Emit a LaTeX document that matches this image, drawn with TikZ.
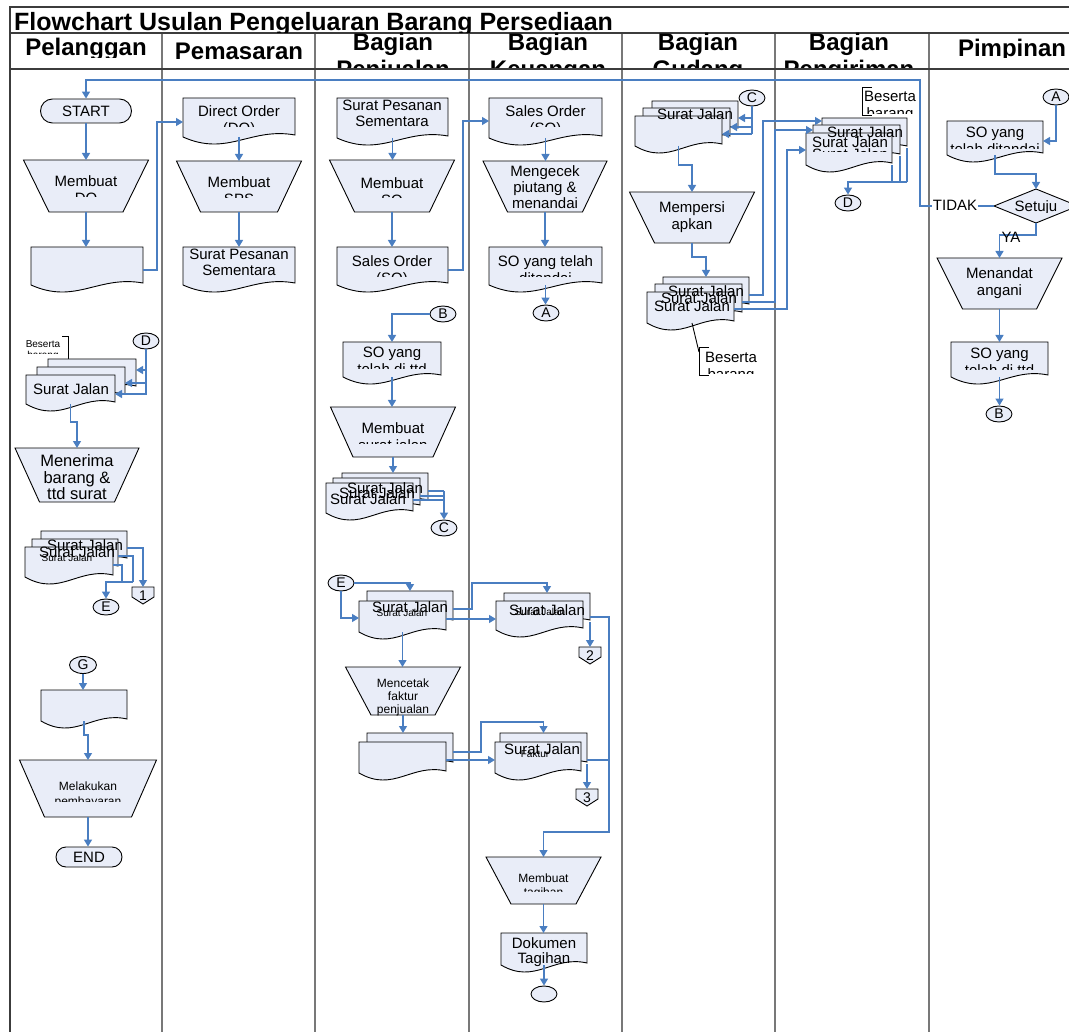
\documentclass[tikz,border=0pt]{standalone}
\usepackage{fontspec}
\setmainfont{Liberation Sans}
\usetikzlibrary{arrows.meta,shapes.geometric,fit}
\definecolor{flowblue}{RGB}{74,126,193}
\definecolor{shpfill}{RGB}{233,237,248}
\definecolor{framegray}{RGB}{60,60,60}
\definecolor{sepgray}{RGB}{120,120,120}
\tikzset{
  frm/.style={draw=framegray, line width=1.5pt},
  sep/.style={draw=sepgray, line width=2pt},
  shp/.style={draw=black, line width=0.9pt, fill=shpfill},
  annot/.style={draw=black, line width=0.9pt},
  box/.style={inner sep=0pt, outer sep=0pt},
  flow/.style={draw=flowblue, line width=1.3pt},
  arr/.style={flow, -{Triangle[length=7pt,width=8pt]}},
  txt/.style={font=\fontsize{15}{17}\selectfont, inner sep=0pt, anchor=base},
  btxt/.style={font=\fontsize{16.5}{18}\selectfont, inner sep=0pt, anchor=base},
  stxt/.style={font=\fontsize{12}{14}\selectfont, inner sep=0pt, anchor=base},
  tinyt/.style={font=\fontsize{10}{12}\selectfont, inner sep=0pt, anchor=base},
  ctext/.style={font=\fontsize{14}{16}\selectfont, inner sep=0pt, anchor=base},
  hdr/.style={font=\fontsize{24}{28}\selectfont\bfseries, inner sep=0pt, anchor=base},
  ttl/.style={font=\fontsize{25}{29}\selectfont\bfseries, inner sep=0pt, anchor=base west},
  conn/.style={ellipse, shp, minimum width=26pt, minimum height=16pt, inner sep=0pt, font=\fontsize{14}{16}\selectfont},
  term/.style={rectangle, shp, inner sep=0pt, font=\fontsize{15}{17}\selectfont}
}
\newcommand\docsh[5]{%
  \path[shp] (#2,#3) -- (#4,#3) -- (#4,{#5-2}) .. controls ({#2+0.6*(#4-#2)},{#5-10}) and ({#2+0.4*(#4-#2)},{#5+20}) .. (#2,#5) -- cycle;
  \node[box, fit={(#2,#3) (#4,#5)}] (#1) {};}
\newcommand\manop[6]{%
  \path[shp] ({#2-#5/2},#3) -- ({#2+#5/2},#3) -- ({#2+#6/2},#4) -- ({#2-#6/2},#4) -- cycle;
  \node[box, fit={({#2-#5/2},#3) ({#2+#5/2},#4)}] (#1) {};}
\newcommand\offpg[4]{%
  \path[shp] ({#2-11},#3) -- ({#2+11},#3) -- ({#2+11},{#3+10}) -- (#2,{#3+17}) -- ({#2-11},{#3+10}) -- cycle;
  \node[box, fit={({#2-11},#3) ({#2+11},{#3+17})}] (#1) {};
  \node[ctext] (#1-t) at (#2,{#3+13}) {#4};}
\newcommand\clipped[5]{\begin{scope}\clip (#1,#2) rectangle (#3,#4); #5\end{scope}}
\begin{document}
\begin{tikzpicture}[x=1pt,y=-1pt]
\useasboundingbox (0,0) rectangle (1069,1032);
% ---------- frame ----------
\foreach \x in {162,315,469,622,775,929} \draw[sep] (\x,33) -- (\x,1032);
\draw[frm] (10,1032) -- (10,7) -- (1069,7);
\draw[frm] (10,33) -- (1069,33);
\draw[frm] (10,69) -- (1069,69);
\clipped{10}{7}{1069}{32.5}{\node[ttl] (title) at (14,31) {Flowchart Usulan Pengeluaran Barang Persediaan};}
\clipped{10}{33}{162}{58}{\node[hdr] (h1) at (86,56) {Pelanggan};}
\node[hdr] (h2) at (239,60) {Pemasaran};
\clipped{315}{33}{469}{68}{\node[hdr] (h3a) at (393,51) {Bagian}; \node[hdr] (h3b) at (393,78) {Penjualan};}
\clipped{469}{33}{622}{68}{\node[hdr] (h4a) at (548,51) {Bagian}; \node[hdr] (h4b) at (548,78) {Keuangan};}
\clipped{622}{33}{775}{68}{\node[hdr] (h5a) at (698,51) {Bagian}; \node[hdr] (h5b) at (698,78) {Gudang};}
\clipped{775}{33}{929}{68}{\node[hdr] (h6a) at (849,51) {Bagian}; \node[hdr] (h6b) at (849,78) {Pengiriman};}
\clipped{929}{33}{1069}{58}{\node[hdr] (h7) at (1012,57) {Pimpinan};}
% ---------- shapes: Pelanggan ----------
\node[term, rounded corners=12pt, minimum width=91pt, minimum height=24pt] (start) at (86,111) {START};
\manop{mdo}{86}{160}{212}{125}{74}
\docsh{pdoc1}{31}{247}{143}{285}
\draw[annot] (62,336) -- (68,336) -- (68,359);
\docsh{ps1b}{48}{359}{136}{388}
\docsh{ps1m}{37}{367}{125}{396}
\docsh{ps1f}{26}{375}{115}{404}
\node[conn] (dp) at (146,341) {D};
\manop{mnr}{77}{448}{502}{124}{75}
\docsh{ps2b}{41}{531}{127}{560}
\docsh{ps2m}{32}{539}{118}{568}
\docsh{ps2f}{25}{547}{113}{577}
\offpg{off1}{143}{587}{1}
\node[conn] (ep) at (106,607) {E};
\node[conn, minimum width=27pt, minimum height=17pt] (gp) at (83,665) {G};
\docsh{pdoc2}{41}{690}{127}{721}
\manop{mlk}{88}{760}{817}{137}{87}
\node[term, rounded corners=10pt, minimum width=66pt, minimum height=20pt] (endt) at (89,857) {END};
% ---------- Pemasaran ----------
\docsh{dor}{183}{98}{295}{137}
\manop{sps}{239}{161}{212}{125}{77}
\docsh{spsd}{183}{247}{295}{285}
% ---------- Penjualan ----------
\docsh{spsj}{337}{98}{448}{138}
\manop{mso}{392}{160}{212}{125}{75}
\docsh{sod}{337}{247}{448}{285}
\node[conn] (bj) at (443,314) {B};
\docsh{sottd}{343}{342}{441}{377}
\manop{msj}{393}{407}{457}{125}{80}
\docsh{pj1b}{342}{473}{428}{502}
\docsh{pj1m}{333}{478}{420}{507}
\docsh{pj1f}{326}{483}{413}{513}
\node[conn] (cj) at (444,528) {C};
\node[conn] (ej) at (341,583) {E};
\docsh{pj2b}{367}{591}{453}{622}
\docsh{pj2f}{359}{601}{446}{632}
\manop{mct}{403}{667}{715}{115}{64}
\docsh{pj3b}{367}{733}{453}{764}
\docsh{pj3f}{359}{742}{446}{773}
% ---------- Keuangan ----------
\docsh{sok}{489}{98}{602}{138}
\manop{mgc}{545}{161}{212}{124}{75}
\docsh{sot}{489}{247}{602}{285}
\node[conn] (ak) at (546,313) {A};
\docsh{ku1b}{504}{593}{590}{622}
\docsh{ku1f}{496}{601}{583}{630}
\offpg{off2}{590}{647}{2}
\docsh{ku2b}{500}{733}{587}{764}
\docsh{ku2f}{495}{742}{581}{773}
\offpg{off3}{587}{789}{3}
\manop{mtg}{543.5}{857}{904}{115}{65}
\docsh{dtg}{501}{933}{587}{965}
\node[conn] (endc) at (544,994) {};
% ---------- Gudang ----------
\node[conn] (cg) at (752,98) {C};
\docsh{gd1b}{652}{101}{738}{130}
\docsh{gd1m}{643}{108}{730}{138}
\docsh{gd1f}{635}{116}{722}{146}
\manop{mps}{692}{192}{243}{125}{75}
\docsh{gd2b}{663}{277}{749}{306}
\docsh{gd2m}{655}{284}{742}{314}
\docsh{gd2f}{647}{292}{734}{323}
\draw[annot] (692,323) -- (699,352);
\draw[annot] (709,347) -- (699,347) -- (699,375) -- (709,375);
% ---------- Pengiriman ----------
\draw[annot] (872,87) -- (862,87) -- (862,115) -- (872,115);
\docsh{kr1b}{822}{118}{907}{148}
\docsh{kr1m}{813}{125}{900}{156}
\docsh{kr1f}{806}{133}{892}{165}
\node[conn] (dk) at (848,203) {D};
% ---------- Pimpinan ----------
\node[conn] (ap) at (1056,97) {A};
\docsh{spt}{947}{121}{1043}{155}
\path[shp] (1036,189) -- (1078,206) -- (1036,223) -- (994,206) -- cycle;
\node[box, fit={(994,189) (1078,223)}] (dia) {};
\manop{mtd}{999.5}{258}{309}{125}{74}
\docsh{sotd}{951}{342}{1048}{377}
\node[conn] (bp) at (999,414) {B};
% ---------- connectors ----------
\draw[arr] (dia.west) -- (920,206) -- (920,80) -- (86,80) -- (start.north);
\draw[arr] (start.south) -- (start.south |- mdo.north);
\draw[arr] (mdo.south) -- (mdo.south |- pdoc1.north);
\draw[arr] (pdoc1.east |- 0,270) -- (157,270) -- (157,122) -- (dor.west |- 0,122);
\draw[arr] (dp.south) |- (ps1f.east |- 0,394);
\draw[arr] (dp.south |- 0,383) -- (ps1m.east |- 0,383);
\draw[arr] (dp.south |- 0,370) -- (ps1b.east |- 0,370);
\draw[arr] (ps1f.south) -- ++(0,18) -| (mnr.north);
\draw[arr] (ps2b.east |- 0,548) -| (off1.north);
\coordinate (ejoin) at (133,582);
\draw[flow] (ps2m.east |- 0,556) -| (ejoin);
\draw[flow] (ps2f.east |- 0,565) -| (ejoin -| 122,0);
\draw[arr] (ejoin) -| (ep.north);
\draw[arr] (gp.south) -- (gp.south |- pdoc2.north);
\draw[arr] (pdoc2.south) -- ++(0,14) -| (mlk.north);
\draw[arr] (mlk.south) -- (mlk.south |- endt.north);
\draw[arr] (dor.south) -- (dor.south |- sps.north);
\draw[arr] (sps.south) -- (sps.south |- spsd.north);
\draw[arr] (spsj.south) -- (spsj.south |- mso.north);
\draw[arr] (mso.south) -- (mso.south |- sod.north);
\draw[arr] (sod.east |- 0,270) -- (463,270) -- (463,121) -- (sok.west |- 0,121);
\draw[arr] (bj.west) -| (sottd.north);
\draw[arr] (sottd.south) -- (sottd.south |- msj.north);
\draw[arr] (msj.south) -- (msj.south |- pj1b.north);
\coordinate (cjoin) at (444,491);
\draw[flow] (pj1b.east |- cjoin) -- (cjoin);
\draw[flow] (pj1m.east |- 0,496) -- (cjoin |- 0,496);
\draw[flow] (pj1f.east |- 0,500) -- (cjoin |- 0,500);
\draw[arr] (cjoin) -- (cj.north);
\draw[arr] (ej.east) -| (pj2b.north);
\draw[arr] (ej.south) |- (pj2f.west |- 0,618);
\draw[arr] (pj2f.south) -- (pj2f.south |- mct.north);
\draw[arr] (mct.south) -- (mct.south |- pj3b.north);
\draw[arr] (pj2b.east |- 0,609) -| (472,583) -| (ku1b.north);
\draw[arr] (pj2f.east |- 0,619) -- (ku1f.west |- 0,619);
\draw[arr] (pj3b.east |- 0,752) -| (481,722) -| (ku2b.north);
\draw[arr] (pj3f.east |- 0,760) -- (ku2f.west |- 0,760);
\draw[arr] (sok.south) -- (sok.south |- mgc.north);
\draw[arr] (mgc.south) -- (mgc.south |- sot.north);
\draw[arr] (sot.south) -- (sot.south |- ak.north);
\draw[arr] (ku1b.south east) -- (off2.north);
\draw[arr] (ku1b.east |- 0,617) -| (609,832) -| (mtg.north);
\draw[flow] (ku2b.east |- 0,760) -- (609,760);
\draw[arr] (ku2b.south east) -- (off3.north);
\draw[arr] (mtg.south) -- (mtg.south |- dtg.north);
\draw[arr] (dtg.south) -- (dtg.south |- endc.north);
\draw[flow] (cg.south) -- (cg.south |- 0,134);
\draw[arr] (cg.south |- 0,118) -- (gd1b.east |- 0,118);
\draw[arr] (cg.south |- 0,127) -- (gd1m.east |- 0,127);
\draw[arr] (cg.south |- 0,134) -- (gd1f.east |- 0,134);
\draw[arr] (gd1f.south) -- ++(0,19) -| (mps.north);
\draw[arr] (mps.south) -- ++(0,14) -| (gd2b.north);
\draw[arr] (gd2b.east |- 0,295) -| (763,121) -- (kr1b.west |- 0,121);
\draw[arr] (gd2m.east |- 0,302) -| (775,130) -- (kr1m.west |- 0,130);
\draw[arr] (gd2f.east |- 0,309) -| (787,150) -- (kr1f.west |- 0,150);
\draw[flow] (kr1b.south east) -- (kr1b.south east |- 0,182);
\draw[flow] (kr1m.south east) -- (kr1m.south east |- 0,182);
\draw[flow] (kr1f.south east) -- (kr1f.south east |- 0,182);
\draw[arr] (kr1b.south east |- 0,182) -| (dk.north);
\draw[arr] (ap.south) |- (spt.east |- 0,141);
\draw[arr] (spt.south) -- ++(0,19) -| (dia.north);
\draw[arr] (dia.south) -- ++(0,12) -| (mtd.north);
\draw[arr] (mtd.south) -- (mtd.south |- sotd.north);
\draw[arr] (sotd.south) -- (sotd.south |- bp.north);
% ---------- texts ----------
\clipped{23}{160}{148}{197}{\node[txt] (t-mdo1) at (86,187) {Membuat}; \node[txt] (t-mdo2) at (86,204) {DO};}
\clipped{10}{330}{70}{354}{\node[tinyt] (t-bs1a) at (43,348) {Beserta}; \node[tinyt] (t-bs1b) at (43,359) {barang};}
\node[txt] (t-ps1) at (71,395) {Surat Jalan};
\node[btxt] (t-mnr1) at (77,466) {Menerima};
\node[btxt] (t-mnr2) at (77,483) {barang \&};
\node[btxt] (t-mnr3) at (77,499) {ttd surat};
\node[txt] (t-ps2a) at (85,550) {Surat Jalan};
\node[txt] (t-ps2b) at (77,557) {Surat Jalan};
\node[tinyt] (t-ps2c) at (67,561) {Surat Jalan};
\clipped{20}{760}{157}{801}{\node[stxt] (t-mlk1) at (88,790) {Melakukan}; \node[stxt] (t-mlk2) at (88,805) {pembayaran};}
\clipped{183}{98}{295}{127}{\node[txt] (t-dor1) at (239,117) {Direct Order}; \node[txt] (t-dor2) at (239,134) {(DO)};}
\clipped{177}{161}{302}{198}{\node[txt] (t-sps1) at (239,188) {Membuat}; \node[txt] (t-sps2) at (239,205) {SPS};}
\node[txt] (t-spsd1) at (239,260) {Surat Pesanan};
\node[txt] (t-spsd2) at (239,276) {Sementara};
\node[txt] (t-spsj1) at (392,111) {Surat Pesanan};
\node[txt] (t-spsj2) at (392,127) {Sementara};
\clipped{330}{160}{455}{198}{\node[txt] (t-mso1) at (392,189) {Membuat}; \node[txt] (t-mso2) at (392,206) {SO};}
\clipped{337}{247}{448}{277}{\node[txt] (t-sod1) at (392,267) {Sales Order}; \node[txt] (t-sod2) at (392,284) {(SO)};}
\clipped{343}{342}{441}{369}{\node[txt] (t-sottd1) at (392,358) {SO yang}; \node[txt] (t-sottd2) at (392,375) {telah di ttd};}
\clipped{330}{407}{455}{443}{\node[txt] (t-msj1) at (393,433) {Membuat}; \node[txt] (t-msj2) at (393,450) {surat jalan};}
\node[txt] (t-pj1a) at (385,493) {Surat Jalan};
\node[txt] (t-pj1b) at (377,498) {Surat Jalan};
\node[txt] (t-pj1c) at (368,504) {Surat Jalan};
\node[txt] (t-pj2a) at (410,612) {Surat Jalan};
\node[tinyt] (t-pj2b) at (402,616) {Surat Jalan};
\node[stxt] (t-mct1) at (403,687) {Mencetak};
\node[stxt] (t-mct2) at (403,700) {faktur};
\node[stxt] (t-mct3) at (403,713) {penjualan};
\clipped{489}{98}{602}{127}{\node[txt] (t-sok1) at (545.5,117) {Sales Order}; \node[txt] (t-sok2) at (545.5,134) {(SO)};}
\node[txt] (t-mgc1) at (545,177) {Mengecek};
\node[txt] (t-mgc2) at (545,193) {piutang \&};
\node[txt] (t-mgc3) at (545,209) {menandai};
\clipped{489}{247}{602}{277}{\node[txt] (t-sot1) at (545.5,267) {SO yang telah}; \node[txt] (t-sot2) at (545.5,284) {ditandai};}
\node[txt] (t-ku1a) at (547,615) {Surat Jalan};
\node[tinyt] (t-ku1b) at (540,615) {Surat Jalan};
\node[txt] (t-ku2a) at (542,754) {Surat Jalan};
\node[tinyt] (t-ku2b) at (535,757) {Faktur};
\clipped{486}{857}{601}{891}{\node[stxt] (t-mtg1) at (543.5,882) {Membuat}; \node[stxt] (t-mtg2) at (543.5,896) {tagihan};}
\node[txt] (t-dtg1) at (544,948) {Dokumen};
\node[txt] (t-dtg2) at (544,963) {Tagihan};
\node[txt] (t-gd1) at (695,120) {Surat Jalan};
\node[txt] (t-mps1) at (692,213) {Mempersi};
\node[txt] (t-mps2) at (692,230) {apkan};
\node[txt] (t-gd2a) at (706,297) {Surat Jalan};
\node[txt] (t-gd2b) at (699,304) {Surat Jalan};
\node[txt] (t-gd2c) at (692,312) {Surat Jalan};
\clipped{700}{345}{775}{374}{\node[txt] (t-bs2a) at (731,363) {Beserta}; \node[txt] (t-bs2b) at (731,380) {barang};}
\clipped{862}{85}{929}{114}{\node[txt] (t-bs3a) at (890,102) {Beserta}; \node[txt] (t-bs3b) at (890,119) {barang};}
\node[txt] (t-kr1a) at (865,138) {Surat Jalan};
\node[txt] (t-kr1b) at (850,148) {Surat Jalan};
\clipped{806}{140}{892}{152}{\node[txt] (t-kr1c) at (850,160) {Surat Jalan};}
\clipped{947}{121}{1043}{149}{\node[txt] (t-spt1) at (995,138) {SO yang}; \node[txt] (t-spt2) at (995,155) {telah ditandai};}
\clipped{994}{189}{1069}{212.3}{\node[txt] (t-dia) at (1036,212) {Setuju};}
\node[txt, fill=white, inner sep=1pt] (tidak) at (955,211) {TIDAK};
\node[txt] (ya) at (1011,243) {YA};
\node[txt] (t-mtd1) at (999.5,279) {Menandat};
\node[txt] (t-mtd2) at (999.5,296) {angani};
\clipped{951}{342}{1048}{370}{\node[txt] (t-sotd1) at (999.5,359) {SO yang}; \node[txt] (t-sotd2) at (999.5,376) {telah di ttd};}
\end{tikzpicture}
\end{document}
